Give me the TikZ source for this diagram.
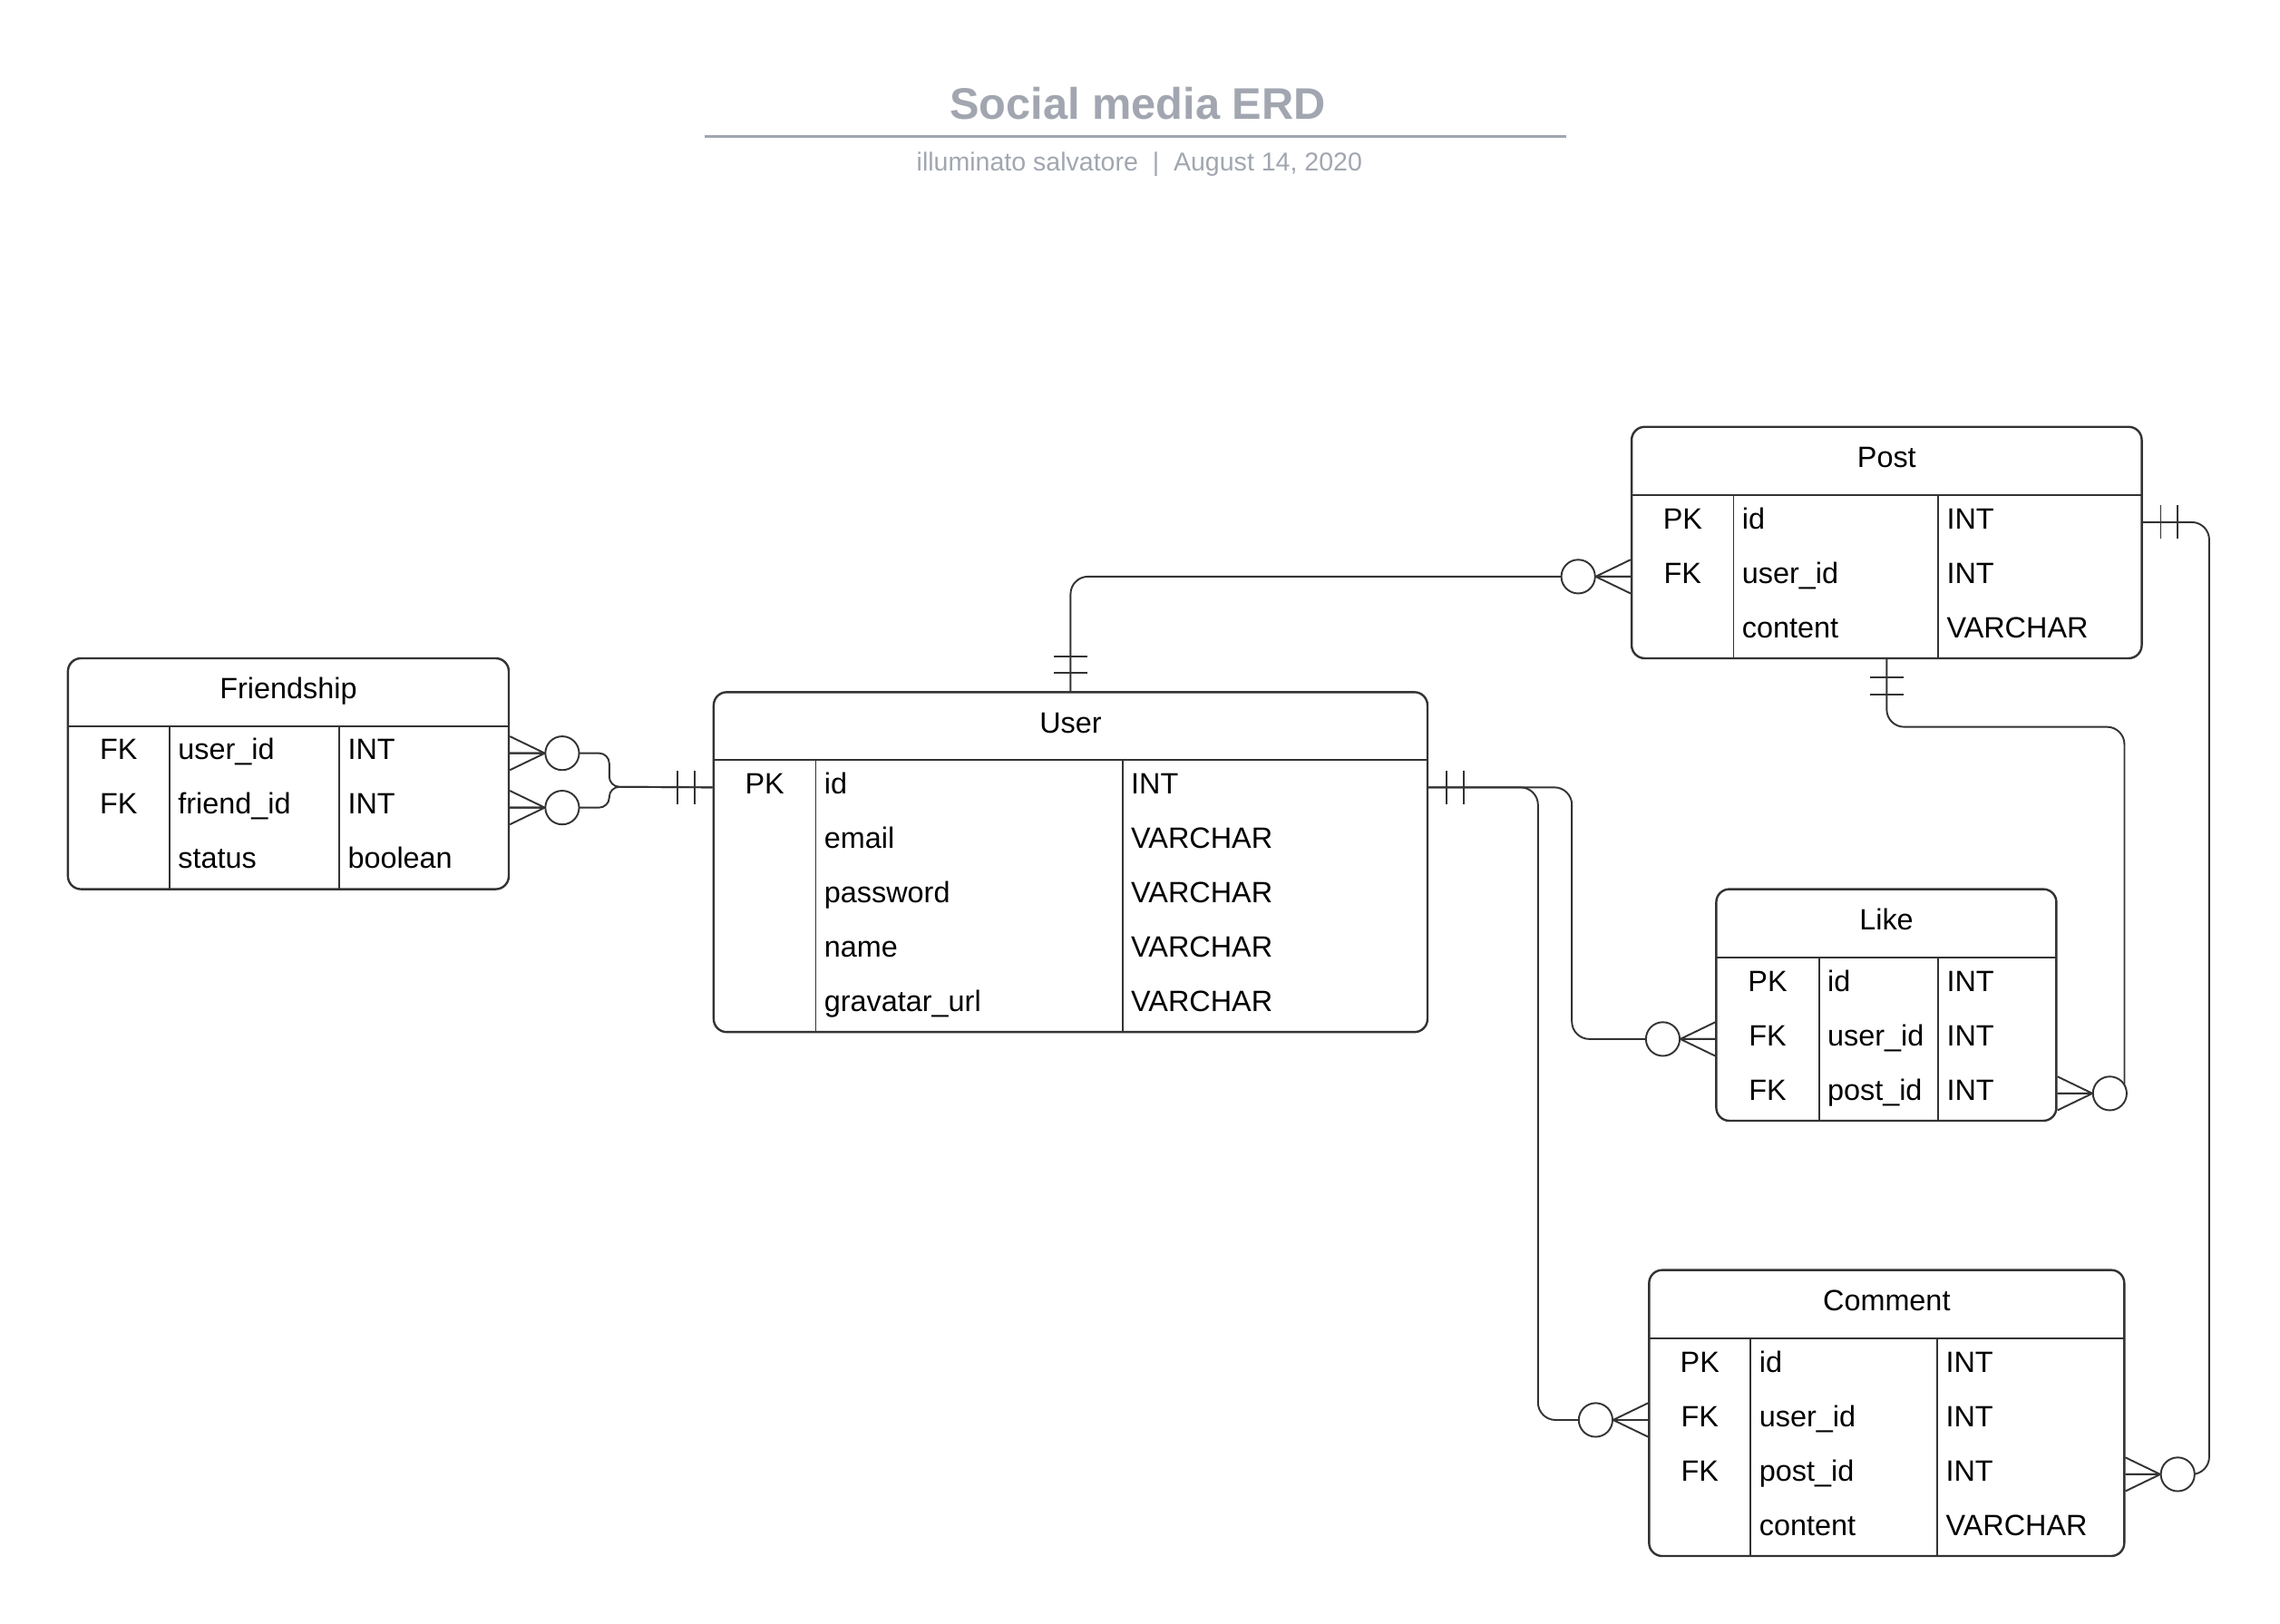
\documentclass[tikz,border=0pt]{standalone}
\usepackage{fontspec}
\setmainfont{Liberation Sans}
\usetikzlibrary{fit}
\definecolor{erdink}{HTML}{333333}
\definecolor{erdgray}{RGB}{161,166,176}

\tikzset{
  zmany/.pic={\draw[erdline] (0,-11.6) -- (24,0) -- (0,11.6) (0,0) -- (24,0);
              \draw[erdline,fill=white] (36,0) circle[radius=5.8pt];},
  oone/.pic={\draw[erdline] (12.3,-11.5) -- (12.3,11.5) (24,-11.5) -- (24,11.5);}
}

\begin{document}
\begin{tikzpicture}[x=0.5pt,y=-0.5pt,
    every node/.style={font=\fontsize{10.1}{12}\selectfont},
    erdline/.style={draw=erdink,line width=0.6pt},
    entity/.style={draw=erdink,line width=0.75pt,rounded corners=4.5pt,inner sep=0pt,fit={#1}},
    grid/.style={draw=erdink,line width=0.6pt},
    cell/.style={inner sep=0pt,text height=0.716em,text depth=0pt,yshift=1.3pt},
    rel/.style={erdline,rounded corners=6pt}]
    \useasboundingbox (0,0) rectangle (1568,1117);

    \node[inner sep=0pt,anchor=base,text=erdgray,font=\fontsize{15.2}{18}\selectfont\bfseries] (title) at (782.5,82.1) {Social media ERD};
    \draw[erdgray,line width=0.95pt] (484.6,93.6) -- (1077.4,93.6);
    \node[inner sep=0pt,anchor=base,text=erdgray,font=\fontsize{8.9}{11}\selectfont] (sub) at (783.6,117.5) {illuminato salvatore\ \ |\ \ August 14, 2020};

    % Friendship
    \node[entity={(46.7,452.8) (349.9,611.6)}] (fr) {};
    \node[cell] (fr-h) at (198.3,476.1) {Friendship};
    \draw[grid] (46.7,499.4) -- (349.9,499.4);
    \foreach \x in {116.6,233.3} \draw[grid] (\x,499.4) -- (\x,611.6);
    \foreach \k/\n/\t [count=\i] in {FK/user\_id/INT, FK/friend\_id/INT, /status/boolean} {
      \coordinate (fr-r\i) at (0,{499.4+37.4*(\i-0.5)});
      \node[cell] (fr-k\i) at (81.6,{499.4+37.4*(\i-0.5)}) {\k};
      \node[cell,anchor=west] (fr-n\i) at (122.1,{499.4+37.4*(\i-0.5)}) {\n};
      \node[cell,anchor=west] (fr-t\i) at (238.8,{499.4+37.4*(\i-0.5)}) {\t};
    }

    % User
    \node[entity={(490.8,476.1) (981.7,709.9)}] (us) {};
    \node[cell] (us-h) at (736.3,499.5) {User};
    \draw[grid] (490.8,522.9) -- (981.7,522.9);
    \foreach \x in {561,772} \draw[grid] (\x,522.9) -- (\x,709.9);
    \foreach \k/\n/\t [count=\i] in {PK/id/INT, /email/VARCHAR, /password/VARCHAR, /name/VARCHAR, /gravatar\_url/VARCHAR} {
      \coordinate (us-r\i) at (0,{522.9+37.4*(\i-0.5)});
      \node[cell] (us-k\i) at (525.9,{522.9+37.4*(\i-0.5)}) {\k};
      \node[cell,anchor=west] (us-n\i) at (566.5,{522.9+37.4*(\i-0.5)}) {\n};
      \node[cell,anchor=west] (us-t\i) at (777.5,{522.9+37.4*(\i-0.5)}) {\t};
    }

    % Post
    \node[entity={(1122.1,293.6) (1472.9,452.8)}] (po) {};
    \node[cell] (po-h) at (1297.5,317.1) {Post};
    \draw[grid] (1122.1,340.5) -- (1472.9,340.5);
    \foreach \x in {1192.2,1332.9} \draw[grid] (\x,340.5) -- (\x,452.8);
    \foreach \k/\n/\t [count=\i] in {PK/id/INT, FK/user\_id/INT, /content/VARCHAR} {
      \coordinate (po-r\i) at (0,{340.5+37.4*(\i-0.5)});
      \node[cell] (po-k\i) at (1157.2,{340.5+37.4*(\i-0.5)}) {\k};
      \node[cell,anchor=west] (po-n\i) at (1197.7,{340.5+37.4*(\i-0.5)}) {\n};
      \node[cell,anchor=west] (po-t\i) at (1338.4,{340.5+37.4*(\i-0.5)}) {\t};
    }

    % Like
    \node[entity={(1180.3,611.6) (1414.2,770.9)}] (lk) {};
    \node[cell] (lk-h) at (1297.3,635.1) {Like};
    \draw[grid] (1180.3,658.6) -- (1414.2,658.6);
    \foreach \x in {1250.9,1332.9} \draw[grid] (\x,658.6) -- (\x,770.9);
    \foreach \k/\n/\t [count=\i] in {PK/id/INT, FK/user\_id/INT, FK/post\_id/INT} {
      \coordinate (lk-r\i) at (0,{658.6+37.4*(\i-0.5)});
      \node[cell] (lk-k\i) at (1215.6,{658.6+37.4*(\i-0.5)}) {\k};
      \node[cell,anchor=west] (lk-n\i) at (1256.4,{658.6+37.4*(\i-0.5)}) {\n};
      \node[cell,anchor=west] (lk-t\i) at (1338.4,{658.6+37.4*(\i-0.5)}) {\t};
    }

    % Comment
    \node[entity={(1134.1,873.6) (1460.9,1070.3)}] (cm) {};
    \node[cell] (cm-h) at (1297.5,897.1) {Comment};
    \draw[grid] (1134.1,920.6) -- (1460.9,920.6);
    \foreach \x in {1204,1332.3} \draw[grid] (\x,920.6) -- (\x,1070.3);
    \foreach \k/\n/\t [count=\i] in {PK/id/INT, FK/user\_id/INT, FK/post\_id/INT, /content/VARCHAR} {
      \coordinate (cm-r\i) at (0,{920.6+37.4*(\i-0.5)});
      \node[cell] (cm-k\i) at (1169,{920.6+37.4*(\i-0.5)}) {\k};
      \node[cell,anchor=west] (cm-n\i) at (1209.5,{920.6+37.4*(\i-0.5)}) {\n};
      \node[cell,anchor=west] (cm-t\i) at (1337.8,{920.6+37.4*(\i-0.5)}) {\t};
    }

    % connector ends and bends
    \coordinate (fr-1e) at (fr.east |- fr-r1);
    \coordinate (fr-2e) at (fr.east |- fr-r2);
    \coordinate (us-1w) at (us.west |- us-r1);
    \coordinate (us-1e) at (us.east |- us-r1);
    \coordinate (po-1e) at (po.east |- po-r1);
    \coordinate (po-2w) at (po.west |- po-r2);
    \coordinate (lk-2w) at (lk.west |- lk-r2);
    \coordinate (lk-3e) at (lk.east |- lk-r3);
    \coordinate (cm-2w) at (cm.west |- cm-r2);
    \coordinate (cm-3e) at (cm.east |- cm-r3);
    \coordinate (fr-join) at (419,541.2);
    \coordinate (lk-bus) at (1081,714.7);
    \coordinate (cm-bus) at (1057.7,976.7);
    \coordinate (pl-bend) at (1461,500);
    \coordinate (lk-3o) at (1461,752.1);
    \coordinate (pc-bus) at (1519.3,1014.1);

    \draw[rel,rounded corners=3.5pt] (fr-1e) -| (fr-join) -- (us-1w);
    \draw[rel,rounded corners=3.5pt] (fr-2e) -| (fr-join) -- (us-1w);
    \draw[rel] (us.north) |- (po-2w);
    \draw[rel] (us-1e) -| (lk-bus) -- (lk-2w);
    \draw[rel] (us-1e) -| (cm-bus) -- (cm-2w);
    \draw[rel] (po.south) |- (pl-bend) -- (lk-3o);
    \draw[erdline] (lk-3o) -- (lk-3e);
    \draw[rel] (po-1e) -| (pc-bus) -- (cm-3e);

    \pic at (fr-1e) {zmany};
    \pic at (fr-2e) {zmany};
    \pic[rotate=180] at (us-1w) {oone};
    \pic[rotate=90] at (us.north) {oone};
    \pic[rotate=180] at (po-2w) {zmany};
    \pic at (us-1e) {oone};
    \pic[rotate=180] at (lk-2w) {zmany};
    \pic[rotate=180] at (cm-2w) {zmany};
    \pic[rotate=-90] at (po.south) {oone};
    \pic at (lk-3e) {zmany};
    \pic at (po-1e) {oone};
    \pic at (cm-3e) {zmany};
\end{tikzpicture}
\end{document}
